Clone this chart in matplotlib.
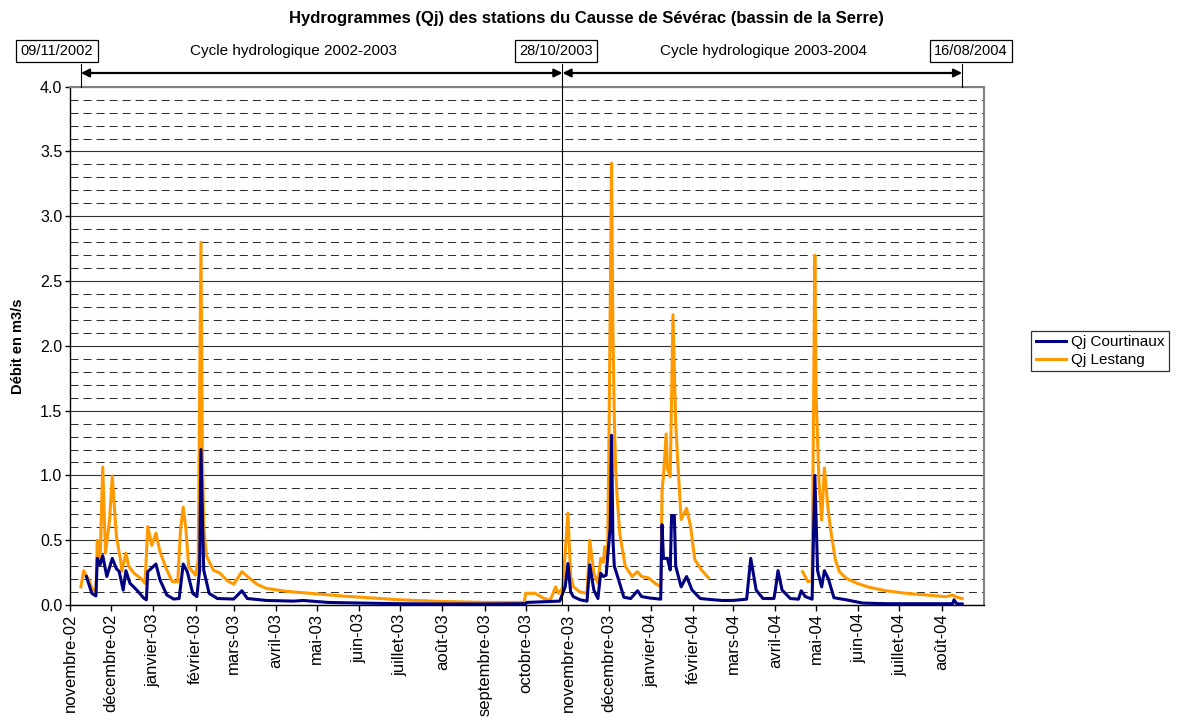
import matplotlib
matplotlib.use("Agg")
import matplotlib.pyplot as plt
import matplotlib.dates as mdates
import matplotlib.transforms as mtransforms
from matplotlib.ticker import MultipleLocator, FixedLocator
import pandas as pd

plt.rcParams["font.family"] = ["Liberation Sans", "DejaVu Sans"]

NAVY = "#000080"
ORANGE = "#FF9900"
NAN = float("nan")

# --- data ---
courtinaux_dates = [
    "2002-11-13", "2002-11-17", "2002-11-20", "2002-11-21", "2002-11-23", "2002-11-25",
    "2002-11-28", "2002-12-02", "2002-12-05", "2002-12-07", "2002-12-10", "2002-12-12",
    "2002-12-15", "2002-12-20", "2002-12-25", "2002-12-27", "2002-12-28", "2003-01-03",
    "2003-01-06", "2003-01-11", "2003-01-16", "2003-01-20", "2003-01-23", "2003-01-26",
    "2003-01-30", "2003-02-02", "2003-02-04", "2003-02-05", "2003-02-07", "2003-02-11",
    "2003-02-17", "2003-03-01", "2003-03-07", "2003-03-11", "2003-03-25", "2003-04-14",
    "2003-04-21", "2003-05-09", "2003-06-02", "2003-07-01", "2003-08-01", "2003-09-01",
    "2003-10-01", "2003-10-02", "2003-10-26", "2003-10-30", "2003-11-01", "2003-11-03",
    "2003-11-05", "2003-11-10", "2003-11-15", "2003-11-17", "2003-11-20", "2003-11-23",
    "2003-11-25", "2003-11-27", "2003-11-29", "2003-12-02", "2003-12-03", "2003-12-04",
    "2003-12-05", "2003-12-08", "2003-12-12", "2003-12-17", "2003-12-22", "2003-12-25",
    "2003-12-31", "2004-01-08", "2004-01-09", "2004-01-10", "2004-01-13", "2004-01-15",
    "2004-01-16", "2004-01-18", "2004-01-19", "2004-01-23", "2004-01-27", "2004-01-31",
    "2004-02-06", "2004-02-16", "2004-02-22", "2004-03-01", "2004-03-11", "2004-03-14",
    "2004-03-18", "2004-03-23", "2004-03-31", "2004-04-01", "2004-04-03", "2004-04-06",
    "2004-04-12", "2004-04-18", "2004-04-20", "2004-04-23", "2004-04-28", "2004-04-30",
    "2004-05-02", "2004-05-05", "2004-05-07", "2004-05-10", "2004-05-14", "2004-05-23",
    "2004-06-04", "2004-06-21", "2004-08-09", "2004-08-10", "2004-08-12", "2004-08-16",
]
courtinaux_q = [
    0.22, 0.09, 0.07, 0.36, 0.31, 0.38,
    0.22, 0.36, 0.28, 0.26, 0.115, 0.265,
    0.167, 0.115, 0.054, 0.04, 0.257, 0.316,
    0.193, 0.077, 0.046, 0.05, 0.316, 0.257,
    0.09, 0.065, 0.27, 1.20, 0.27, 0.09,
    0.05, 0.046, 0.11, 0.05, 0.035, 0.03,
    0.035, 0.02, 0.015, 0.01, 0.008, 0.008,
    0.01, 0.02, 0.03, 0.14, 0.32, 0.10,
    0.064, 0.04, 0.03, 0.31, 0.115, 0.05,
    0.245, 0.22, 0.23, 0.60, 1.31, 0.50,
    0.30, 0.20, 0.06, 0.05, 0.11, 0.065,
    0.054, 0.045, 0.62, 0.36, 0.36, 0.27,
    0.69, 0.69, 0.30, 0.14, 0.22, 0.115,
    0.05, 0.04, 0.035, 0.035, 0.045, 0.36,
    0.115, 0.05, 0.05, 0.11, 0.265, 0.115,
    0.05, 0.045, 0.11, 0.065, 0.045, 1.00,
    0.265, 0.14, 0.265, 0.20, 0.056, 0.04,
    0.015, 0.01, 0.01, 0.04, 0.01, 0.008,
]

lestang_dates = [
    "2002-11-09", "2002-11-11", "2002-11-15", "2002-11-17", "2002-11-20", "2002-11-21",
    "2002-11-23", "2002-11-25", "2002-11-27", "2002-11-30", "2002-12-02", "2002-12-05",
    "2002-12-08", "2002-12-09", "2002-12-12", "2002-12-14", "2002-12-18", "2002-12-23",
    "2002-12-26", "2002-12-28", "2002-12-31", "2003-01-03", "2003-01-06", "2003-01-11",
    "2003-01-15", "2003-01-19", "2003-01-21", "2003-01-23", "2003-01-25", "2003-01-27",
    "2003-02-01", "2003-02-03", "2003-02-05", "2003-02-06", "2003-02-07", "2003-02-09",
    "2003-02-14", "2003-02-19", "2003-02-24", "2003-03-01", "2003-03-07", "2003-03-11",
    "2003-03-18", "2003-03-25", "2003-04-09", "2003-04-26", "2003-05-20", "2003-06-02",
    "2003-07-01", "2003-08-01", "2003-09-01", "2003-09-30", "2003-10-01", "2003-10-08",
    "2003-10-14", "2003-10-19", "2003-10-23", "2003-10-25", "2003-10-28", "2003-10-30",
    "2003-11-01", "2003-11-03", "2003-11-05", "2003-11-10", "2003-11-15", "2003-11-17",
    "2003-11-20", "2003-11-23", "2003-11-25", "2003-11-27", "2003-11-28", "2003-11-30",
    "2003-12-01", "2003-12-02", "2003-12-03", "2003-12-04", "2003-12-05", "2003-12-06",
    "2003-12-07", "2003-12-09", "2003-12-13", "2003-12-18", "2003-12-22", "2003-12-25",
    "2003-12-30", "2004-01-04", "2004-01-08", "2004-01-09", "2004-01-10", "2004-01-12",
    "2004-01-13", "2004-01-15", "2004-01-17", "2004-01-19", "2004-01-21", "2004-01-23",
    "2004-01-27", "2004-01-30", "2004-02-02", "2004-02-07", "2004-02-12", "2004-03-15",
    "2004-04-21", "2004-04-25", "2004-04-28", "2004-04-30", "2004-05-01", "2004-05-03",
    "2004-05-05", "2004-05-07", "2004-05-10", "2004-05-12", "2004-05-15", "2004-05-18",
    "2004-05-23", "2004-05-31", "2004-06-09", "2004-06-21", "2004-07-06", "2004-07-21",
    "2004-08-04", "2004-08-09", "2004-08-11", "2004-08-16",
]
lestang_q = [
    0.14, 0.265, 0.19, 0.13, 0.10, 0.50,
    0.33, 1.065, 0.40, 0.655, 0.995, 0.53,
    0.35, 0.26, 0.40, 0.30, 0.245, 0.205,
    0.167, 0.605, 0.46, 0.555, 0.41, 0.27,
    0.18, 0.18, 0.58, 0.755, 0.58, 0.295,
    0.23, 0.35, 2.80, 1.20, 0.60, 0.38,
    0.27, 0.245, 0.19, 0.16, 0.257, 0.22,
    0.16, 0.128, 0.105, 0.09, 0.069, 0.06,
    0.04, 0.027, 0.02, 0.02, 0.09, 0.09,
    0.053, 0.036, 0.14, 0.09, 0.13, 0.40,
    0.71, 0.22, 0.14, 0.10, 0.09, 0.50,
    0.245, 0.167, 0.36, 0.33, 0.45, 0.34,
    1.20, 2.30, 3.41, 2.10, 1.45, 1.05,
    0.85, 0.55, 0.30, 0.22, 0.257, 0.22,
    0.21, 0.167, 0.14, 0.89, 0.99, 1.32,
    1.05, 0.99, 2.24, 1.40, 1.02, 0.66,
    0.746, 0.60, 0.35, 0.27, 0.21, NAN,
    0.257, 0.18, 0.19, 2.70, 1.60, 0.96,
    0.655, 1.057, 0.71, 0.553, 0.35, 0.257,
    0.206, 0.167, 0.136, 0.11, 0.09, 0.077,
    0.064, 0.077, 0.064, 0.05,
]

month_labels = [
    "novembre-02", "décembre-02", "janvier-03", "février-03", "mars-03", "avril-03",
    "mai-03", "juin-03", "juillet-03", "août-03", "septembre-03", "octobre-03",
    "novembre-03", "décembre-03", "janvier-04", "février-04", "mars-04", "avril-04",
    "mai-04", "juin-04", "juillet-04", "août-04",
]
cycle_dates = ["2002-11-09", "2003-10-28", "2004-08-16"]
cycle_labels = ["09/11/2002", "28/10/2003", "16/08/2004"]
cycle_names = ["Cycle hydrologique 2002-2003", "Cycle hydrologique 2003-2004"]

# --- figure ---
W, H = 1187, 722
fig = plt.figure(figsize=(W / 100, H / 100), dpi=100)
ax = fig.add_axes([70 / W, 1 - 605 / H, (984 - 70) / W, (605 - 86.7) / H])

def px(x, y):
    return x / W, 1 - y / H

la, = ax.plot(pd.to_datetime(lestang_dates), lestang_q, color=ORANGE, lw=2.2, zorder=3)
co, = ax.plot(pd.to_datetime(courtinaux_dates), courtinaux_q, color=NAVY, lw=2.2, zorder=4)

ax.set_xlim(pd.Timestamp("2002-11-01"), pd.Timestamp("2004-09-01"))
ax.set_ylim(0, 4)

# y axis + grid
ax.yaxis.set_major_locator(MultipleLocator(0.5))
ax.yaxis.set_major_formatter(matplotlib.ticker.FormatStrFormatter("%.1f"))
minor = [i / 10 for i in range(1, 40) if i % 5 != 0]
ax.yaxis.set_minor_locator(FixedLocator(minor))
ax.grid(axis="y", which="major", color="#303030", lw=0.8, linestyle="-")
ax.grid(axis="y", which="minor", color="#303030", lw=0.75, linestyle=(0, (7.7, 4.8)))
ax.set_axisbelow(True)
ax.tick_params(axis="y", which="major", direction="out", length=3.6, width=1, labelsize=11.5, pad=2)
ax.tick_params(axis="y", which="minor", length=0)

# x axis ticks: month starts
month_starts = pd.date_range("2002-11-01", periods=len(month_labels), freq="MS")
ax.set_xticks(month_starts)
ax.set_xticklabels(month_labels, rotation=90, fontsize=12)
ax.tick_params(axis="x", direction="out", length=4, width=1, pad=2)

for side in ["left", "bottom"]:
    ax.spines[side].set_color("black")
    ax.spines[side].set_linewidth(1)
for side in ["top", "right"]:
    ax.spines[side].set_color("#808080")
    ax.spines[side].set_linewidth(1.5)

fig.text(*px(18, 346), "Débit en m3/s", rotation=90, ha="center", va="center",
         fontsize=10.5, fontweight="bold")
fig.text(*px(586, 19), "Hydrogrammes (Qj) des stations du Causse de Sévérac (bassin de la Serre)",
         ha="center", va="center", fontsize=12, fontweight="bold")

# cycle markers above the plot
trans = mtransforms.blended_transform_factory(ax.transData, ax.transAxes)
top_line = (605 - 64) / (605 - 86.7)
arrow_y = (605 - 73) / (605 - 86.7)
cd = [mdates.date2num(pd.Timestamp(d)) for d in cycle_dates]
for i, d in enumerate(cd):
    y0 = 0 if i == 1 else 1
    ax.plot([d, d], [y0, top_line], transform=trans, color="black", lw=0.8,
            clip_on=False, zorder=5)
for a, b in [(cd[0], cd[1]), (cd[1], cd[2])]:
    ax.annotate("", xy=(b, arrow_y), xytext=(a, arrow_y), xycoords=trans, textcoords=trans,
                arrowprops=dict(arrowstyle="<|-|>", lw=1.6, color="black",
                                mutation_scale=12, shrinkA=0, shrinkB=0))

box_x = [57, 556, 971]
for x, lab in zip(box_x, cycle_labels):
    fig.text(*px(x, 51), lab, ha="center", va="center", fontsize=10.5,
             bbox=dict(boxstyle="square,pad=0.3", fc="white", ec="black", lw=0.9))
for x, lab in zip([293, 764], cycle_names):
    fig.text(*px(x, 51), lab, ha="center", va="center", fontsize=11)

leg = fig.legend([co, la], ["Qj Courtinaux", "Qj Lestang"], loc="center left",
                 bbox_to_anchor=px(1031, 351), fontsize=11, frameon=True, fancybox=False,
                 handlelength=2.0, handletextpad=0.3, borderpad=0.3, labelspacing=0.25,
                 borderaxespad=0)
leg.get_frame().set_edgecolor("black")
leg.get_frame().set_linewidth(0.9)

fig.savefig("out.png", dpi=100)
